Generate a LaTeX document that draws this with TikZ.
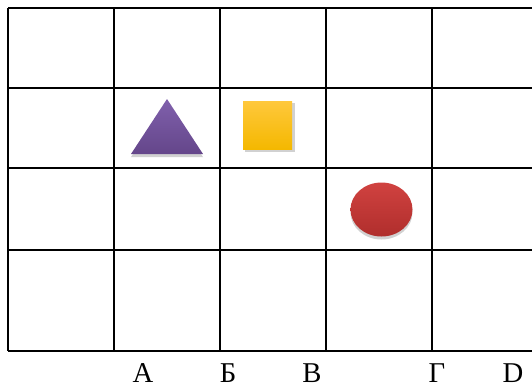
\documentclass[tikz,border=0pt]{standalone}
\usepackage{fontspec}
\setmainfont{Liberation Serif}
\begin{document}
\begin{tikzpicture}[
    x=1bp, y=-1bp,
    font=\fontsize{28.7bp}{34bp}\selectfont,
    linea/.style={line width=2bp},
    ombra/.style={fill=black,opacity=0.18},
    lettera/.style={anchor=base,inner sep=0pt}]

  \useasboundingbox (0,0) rectangle (532,385);

  % griglia, lato destro aperto
  \foreach \x in {8,114,220,326,432}
    \draw[linea] (\x,8) -- (\x,351);
  \foreach \y in {8,88,168,250,351}
    \draw[linea] (8,\y) -- (532,\y);

  % triangolo viola
  \fill[ombra] (131,157) -- (203,157) -- (167,103) -- cycle;
  \shade[top color={rgb,255:red,128;green,96;blue,172},
         bottom color={rgb,255:red,100;green,70;blue,138}]
    (131,154) coordinate (t1) -- (203,154) coordinate (t2)
    -- (167,99) coordinate (t3) -- cycle;

  % quadrato giallo
  \fill[ombra] (245,103) rectangle (295,152);
  \shade[top color={rgb,255:red,255;green,200;blue,60},
         bottom color={rgb,255:red,244;green,184;blue,0}]
    (243,101) rectangle (292,149);

  % cerchio rosso
  \fill[ombra] (381.5,212.5) ellipse [x radius=31, y radius=27];
  \shade[top color={rgb,255:red,208;green,66;blue,64},
         bottom color={rgb,255:red,176;green,46;blue,44}]
    (381.5,209.5) ellipse [x radius=31, y radius=27];

  % lettere sotto la griglia
  \node[lettera] (la) at (143,382) {А};
  \node[lettera] (lb) at (228,382) {Б};
  \node[lettera] (lv) at (312,382) {В};
  \node[lettera] (lg) at (437,382) {Г};
  \node[lettera] (ld) at (513,382) {D};

\end{tikzpicture}
\end{document}
